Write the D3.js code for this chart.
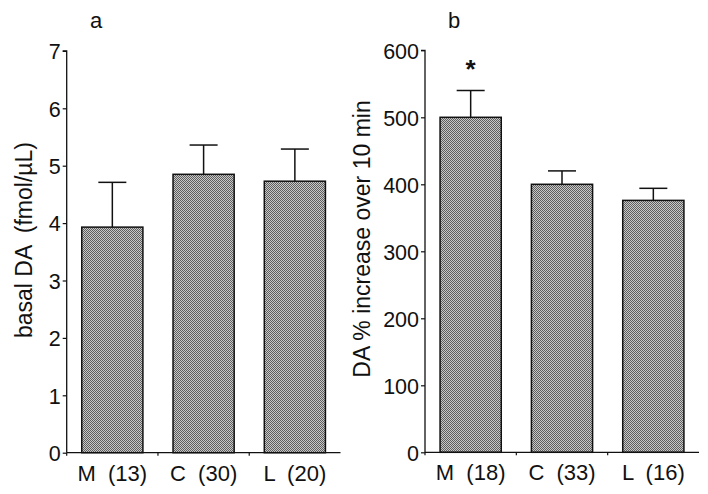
<!DOCTYPE html>
<html><head><meta charset="utf-8">
<script src="https://cdn.jsdelivr.net/npm/d3@7"></script>
<style>body{margin:0;background:#fff}svg{display:block}text{font-family:"Liberation Sans",Arial,sans-serif;fill:#111}</style>
</head><body><svg id="c" width="708" height="494"></svg>
<script>
const categoriesA = ["M  (13)", "C  (30)", "L  (20)"];
const valuesA = [3.93, 4.85, 4.73];
const errorsA = [0.78, 0.51, 0.56];
const ticksA = [0,1,2,3,4,5,6,7];
const categoriesB = ["M  (18)", "C  (33)", "L  (16)"];
const valuesB = [500, 400, 376];
const errorsB = [40, 20, 18];
const ticksB = [0,100,200,300,400,500,600];
const sigB = [true, false, false];

const svg = d3.select("#c");
const defs = svg.append("defs");
const pat = defs.append("pattern").attr("id","stip").attr("width",2).attr("height",2).attr("patternUnits","userSpaceOnUse");
pat.append("rect").attr("width",2).attr("height",2).attr("fill","#c8c8c8");
pat.append("rect").attr("width",1).attr("height",1).attr("fill","#5e5e5e");
pat.append("rect").attr("x",1).attr("y",1).attr("width",1).attr("height",1).attr("fill","#5e5e5e");

function panel(o){
  const g = svg.append("g");
  const x = d3.scaleBand().domain(o.cats).range([o.x0, o.x1]).paddingInner(0.33).paddingOuter(0.165);
  const y = d3.scaleLinear().domain([0, o.max]).range([o.y0, o.y1]);
  g.selectAll("rect.bar").data(o.vals).join("rect")
    .attr("x",(d,i)=>x(o.cats[i])).attr("width",x.bandwidth())
    .attr("y",d=>y(d)).attr("height",d=>y(0)-y(d))
    .attr("fill","url(#stip)").attr("stroke","#111").attr("stroke-width",1.5);
  const cw = 14;
  o.vals.forEach((v,i)=>{
    const cx = x(o.cats[i]) + x.bandwidth()/2;
    const top = y(v+o.errs[i]);
    g.append("line").attr("x1",cx).attr("x2",cx).attr("y1",y(v)).attr("y2",top).attr("stroke","#111").attr("stroke-width",1.5);
    g.append("line").attr("x1",cx-cw).attr("x2",cx+cw).attr("y1",top).attr("y2",top).attr("stroke","#111").attr("stroke-width",1.5);
    if (o.sig && o.sig[i]) g.append("text").attr("x",cx).attr("y",top-13).attr("text-anchor","middle").attr("font-size",26).attr("font-weight","bold").text("*");
  });
  const ya = g.append("g").attr("transform",`translate(${o.x0},0)`).call(d3.axisLeft(y).tickValues(o.ticks).tickSize(4).tickPadding(2).tickFormat(d3.format("d")));
  ya.select(".domain").attr("stroke","#111").attr("stroke-width",1.3).attr("d",`M-4,${y(o.max)}H0V${y(0)}`);
  ya.selectAll(".tick line").attr("stroke","#111").attr("stroke-width",1.2);
  ya.selectAll(".tick text").attr("font-size",21.5).attr("fill","#111").attr("dy","0.36em");
  const xa = g.append("g").attr("transform",`translate(0,${o.y0})`);
  xa.append("line").attr("x1",o.x0).attr("x2",o.x1).attr("stroke","#111").attr("stroke-width",1.3);
  const edges = o.cats.map(c=>x(c)-x.step()*0.165);
  xa.selectAll("line.t").data(edges).join("line").attr("class","t").attr("x1",d=>d).attr("x2",d=>d).attr("y1",0).attr("y2",3).attr("stroke","#111").attr("stroke-width",1.2);
  xa.selectAll("text").data(o.cats).join("text").attr("x",d=>x(d)+x.bandwidth()/2).attr("y",28).attr("text-anchor","middle").attr("font-size",22).style("white-space","pre").text(d=>d);
  g.append("text").attr("x",o.tx).attr("y",28).attr("font-size",22).attr("text-anchor","middle").text(o.title);
  g.append("text").attr("transform",`translate(${o.lx},${o.ly}) rotate(-90)`).attr("text-anchor","middle").attr("font-size",23).style("white-space","pre").text(o.label);
}

panel({cats:categoriesA, vals:valuesA, errs:errorsA, ticks:ticksA, max:7, x0:66.7, x1:340.5, y0:452.7, y1:50.9, tx:96, title:"a", label:"basal DA  (fmol/µL)", lx:32, ly:240});
panel({cats:categoriesB, vals:valuesB, errs:errorsB, ticks:ticksB, max:600, x0:425, x1:699, y0:452.3, y1:50.3, tx:454, title:"b", label:"DA % increase over 10 min", lx:370, ly:239, sig:sigB});
</script></body></html>
